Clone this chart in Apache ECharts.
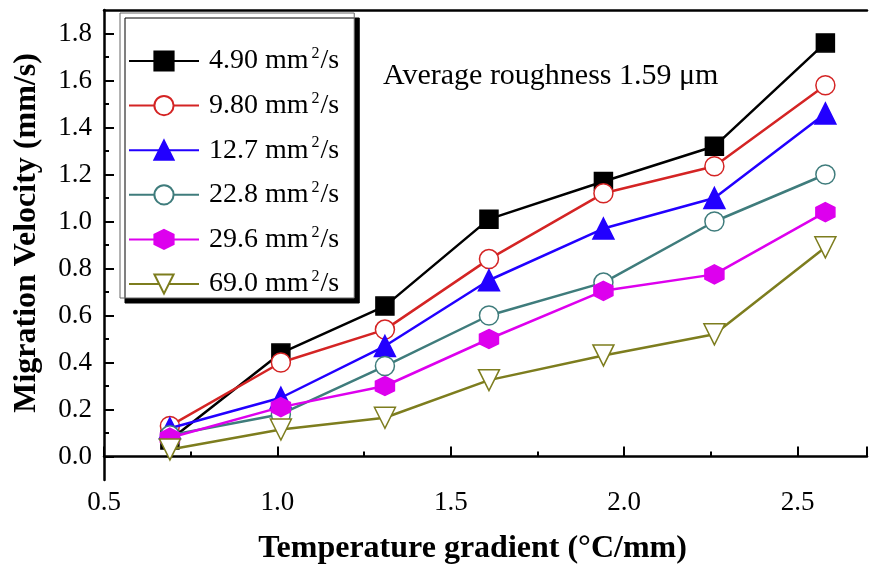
<!DOCTYPE html>
<html>
<head>
<meta charset="utf-8">
<script src="https://cdn.jsdelivr.net/npm/echarts@6/dist/echarts.min.js"></script>
<style>html,body{margin:0;padding:0;background:#fff}#c{width:870px;height:564px}</style>
</head>
<body>
<div id="c"></div>
<script>
// ---- data ----
const xValues = [0.69, 1.01, 1.31, 1.61, 1.94, 2.26, 2.58];
const seriesNames = ['4.90 mm²/s', '9.80 mm²/s', '12.7 mm²/s', '22.8 mm²/s', '29.6 mm²/s', '69.0 mm²/s'];
const v490 = [0.07, 0.44, 0.64, 1.01, 1.17, 1.32, 1.76];
const v980 = [0.13, 0.40, 0.54, 0.84, 1.12, 1.235, 1.58];
const v127 = [0.12, 0.25, 0.47, 0.75, 0.97, 1.10, 1.46];
const v228 = [0.09, 0.18, 0.385, 0.60, 0.74, 1.00, 1.20];
const v296 = [0.08, 0.21, 0.30, 0.50, 0.705, 0.775, 1.04];
const v690 = [0.03, 0.115, 0.165, 0.325, 0.43, 0.52, 0.89];
const yMajorTicks = [0.0, 0.2, 0.4, 0.6, 0.8, 1.0, 1.2, 1.4, 1.6, 1.8];
const yMinorTicks = [0.1, 0.3, 0.5, 0.7, 0.9, 1.1, 1.3, 1.5, 1.7];
const annotation = 'Average roughness 1.59 \u03bcm';

const allValues = [v490, v980, v127, v228, v296, v690];
const colors = ['#000000', '#d42424', '#2200ff', '#3f7c7c', '#dd00ee', '#7d7d1e'];
const fills = ['#000000', '#ffffff', '#2200ff', '#ffffff', '#dd00ee', '#ffffff'];
const HEX = 'path://M0,-1 L0.866,-0.5 L0.866,0.5 L0,1 L-0.866,0.5 L-0.866,-0.5 Z';
const symbols = ['rect', 'circle', 'triangle', 'circle', HEX, 'triangle'];
const sizes = [18, 19, 21, 19, 19, 21];
const rotates = [0, 0, 0, 0, 0, 180];

const FONT = '"Liberation Serif", "Times New Roman", serif';

const series = seriesNames.map((n, i) => ({
  name: n,
  type: 'line',
  data: xValues.map((x, j) => [x, allValues[i][j]]),
  symbol: symbols[i],
  symbolSize: sizes[i],
  symbolRotate: rotates[i],
  showAllSymbol: true,
  lineStyle: { color: colors[i], width: 2.5 },
  itemStyle: { color: fills[i], borderColor: colors[i], borderWidth: 1.5, opacity: 1 },
  emphasis: { disabled: true },
  z: 2 + i,
  animation: false
}));

const chart = echarts.init(document.getElementById('c'), null, { renderer: 'canvas' });
chart.setOption({
  animation: false,
  backgroundColor: '#fff',
  grid: { left: 104, top: 10, right: 3, bottom: 84, containLabel: false, outerBoundsMode: 'none' },
  textStyle: { fontFamily: FONT },
  legend: {
    orient: 'vertical',
    left: 120, top: 13,
    padding: [33, 15, 0, 8],
    itemWidth: 70, itemHeight: 24, itemGap: 15.6,
    backgroundColor: '#fff',
    borderColor: '#666', borderWidth: 1,
    shadowColor: '#000', shadowBlur: 0, shadowOffsetX: 5, shadowOffsetY: 5,
    textStyle: {
      fontFamily: FONT, fontSize: 28, color: '#000',
      rich: {
        a: { fontFamily: FONT, fontSize: 28, color: '#000', lineHeight: 30, padding: [0, 0, 0, 5] },
        t: { fontFamily: FONT, fontSize: 28, color: '#000', lineHeight: 30 },
        s: { fontFamily: FONT, fontSize: 16, color: '#000', verticalAlign: 'top', lineHeight: 30, padding: [0, 1, 12, 3] }
      }
    },
    formatter: function (name) {
      const parts = name.split('²');
      return '{a|' + parts[0] + '}{s|2}{t|' + parts[1] + '}';
    },
    data: seriesNames,
    z: 10
  },
  xAxis: [{
    type: 'value', min: 0.5, max: 2.7, interval: 0.5,
    name: 'Temperature gradient (\u00b0C/mm)', nameLocation: 'middle', nameGap: 53,
    nameTextStyle: { fontFamily: FONT, fontSize: 32, fontWeight: 'bold', color: '#000', padding: [0, 26, 0, 0] },
    axisLine: { lineStyle: { color: '#000', width: 2.5 } },
    axisTick: { inside: true, length: 10, lineStyle: { color: '#000', width: 2 } },
    minorTick: { show: true, splitNumber: 2, length: 5, lineStyle: { color: '#000', width: 2 } },
    axisLabel: { fontFamily: FONT, fontSize: 27, color: '#000', margin: 9,
      formatter: v => v.toFixed(1), showMaxLabel: false },
    splitLine: { show: false }
  }, {
    type: 'value', min: 0.5, max: 2.7, position: 'top',
    axisLine: { show: true, onZero: false, lineStyle: { color: '#000', width: 2.5 } },
    axisTick: { show: false }, axisLabel: { show: false }, splitLine: { show: false }
  }],
  yAxis: [{
    type: 'value', min: -0.1, max: 1.9, interval: 0.1,
    name: 'Migration Velocity (mm/s)', nameLocation: 'middle', nameGap: 61,
    nameTextStyle: { fontFamily: FONT, fontSize: 32, fontWeight: 'bold', color: '#000', padding: [0, 0, 0, 24] },
    axisLine: { show: true, lineStyle: { color: '#000', width: 2.5 } },
    axisTick: { inside: true, length: 10, customValues: yMajorTicks, lineStyle: { color: '#000', width: 2 } },
    axisLabel: { fontFamily: FONT, fontSize: 27, color: '#000', margin: 12,
      customValues: yMajorTicks, formatter: v => v.toFixed(1) },
    splitLine: { show: false }
  }, {
    type: 'value', min: -0.1, max: 1.9, interval: 0.1, position: 'left',
    axisLine: { show: false },
    axisTick: { inside: true, length: 5, customValues: yMinorTicks, lineStyle: { color: '#000', width: 2 } },
    axisLabel: { show: false }, splitLine: { show: false }
  }],
  graphic: [{
    type: 'text', left: 383, top: 61, z: 20,
    style: { text: annotation, font: '30px ' + FONT, fill: '#000' }
  }],
  series: series
});
</script>
</body>
</html>
